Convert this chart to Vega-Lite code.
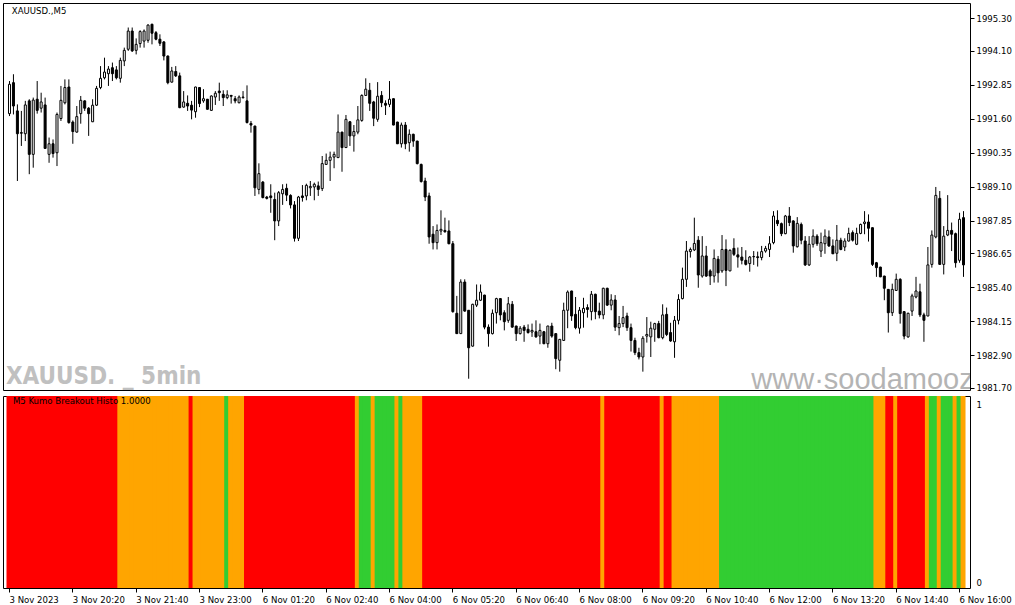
{
"$schema":"https://vega.github.io/schema/vega-lite/v6.json",
"background":"white",
"padding":{"left":2,"top":2,"right":0,"bottom":0},
"spacing":2,
"config":{"view":{"stroke":"black","strokeWidth":1},"axis":{"labelFont":"DejaVu Sans Condensed","labelFontSize":9.5,"labelColor":"black","tickColor":"black","tickWidth":1,"domain":false,"grid":false,"labelOverlap":false}},
"data":{"values":[
{"i":0,"o":1991.79,"h":1992.99,"l":1991.70,"c":1992.87,"s":"r"},
{"i":1,"o":1992.93,"h":1993.24,"l":1991.76,"c":1992.07,"s":"r"},
{"i":2,"o":1991.89,"h":1992.13,"l":1989.31,"c":1991.05,"s":"r"},
{"i":3,"o":1991.09,"h":1991.89,"l":1990.60,"c":1991.07,"s":"r"},
{"i":4,"o":1991.05,"h":1992.26,"l":1990.78,"c":1992.11,"s":"r"},
{"i":5,"o":1992.26,"h":1992.32,"l":1989.56,"c":1990.29,"s":"r"},
{"i":6,"o":1990.29,"h":1992.38,"l":1989.80,"c":1992.29,"s":"r"},
{"i":7,"o":1992.32,"h":1992.99,"l":1991.79,"c":1991.91,"s":"r"},
{"i":8,"o":1991.99,"h":1992.56,"l":1991.83,"c":1992.22,"s":"r"},
{"i":9,"o":1992.11,"h":1992.38,"l":1990.49,"c":1990.51,"s":"r"},
{"i":10,"o":1990.29,"h":1990.91,"l":1989.98,"c":1990.68,"s":"r"},
{"i":11,"o":1990.68,"h":1990.84,"l":1990.17,"c":1990.32,"s":"r"},
{"i":12,"o":1990.35,"h":1991.83,"l":1989.86,"c":1991.76,"s":"r"},
{"i":13,"o":1991.61,"h":1992.81,"l":1991.52,"c":1992.28,"s":"r"},
{"i":14,"o":1992.19,"h":1993.05,"l":1992.13,"c":1992.75,"s":"r"},
{"i":15,"o":1992.77,"h":1993.05,"l":1991.42,"c":1991.46,"s":"r"},
{"i":16,"o":1991.48,"h":1991.54,"l":1990.68,"c":1991.13,"s":"r"},
{"i":17,"o":1991.11,"h":1992.07,"l":1991.09,"c":1991.68,"s":"r"},
{"i":18,"o":1991.79,"h":1992.44,"l":1991.42,"c":1992.28,"s":"r"},
{"i":19,"o":1992.26,"h":1992.28,"l":1991.89,"c":1991.99,"s":"r"},
{"i":20,"o":1991.99,"h":1992.03,"l":1990.97,"c":1991.79,"s":"r"},
{"i":21,"o":1991.49,"h":1992.32,"l":1991.48,"c":1992.10,"s":"r"},
{"i":22,"o":1992.10,"h":1992.81,"l":1992.07,"c":1992.72,"s":"r"},
{"i":23,"o":1992.75,"h":1993.54,"l":1992.69,"c":1993.09,"s":"r"},
{"i":24,"o":1993.11,"h":1993.85,"l":1993.05,"c":1993.32,"s":"r"},
{"i":25,"o":1993.26,"h":1993.54,"l":1992.81,"c":1993.43,"s":"r"},
{"i":26,"o":1993.48,"h":1993.67,"l":1992.99,"c":1993.26,"s":"r"},
{"i":27,"o":1993.40,"h":1993.54,"l":1993.05,"c":1993.11,"s":"r"},
{"i":28,"o":1993.09,"h":1993.85,"l":1992.93,"c":1993.75,"s":"o"},
{"i":29,"o":1993.73,"h":1994.22,"l":1993.54,"c":1994.12,"s":"o"},
{"i":30,"o":1994.16,"h":1994.96,"l":1994.10,"c":1994.83,"s":"o"},
{"i":31,"o":1994.83,"h":1994.96,"l":1994.06,"c":1994.10,"s":"o"},
{"i":32,"o":1994.12,"h":1994.56,"l":1993.97,"c":1994.34,"s":"o"},
{"i":33,"o":1994.37,"h":1994.86,"l":1994.22,"c":1994.81,"s":"o"},
{"i":34,"o":1994.46,"h":1994.89,"l":1994.22,"c":1994.83,"s":"o"},
{"i":35,"o":1994.49,"h":1995.08,"l":1994.40,"c":1995.05,"s":"o"},
{"i":36,"o":1995.08,"h":1995.10,"l":1994.34,"c":1994.75,"s":"o"},
{"i":37,"o":1994.77,"h":1994.83,"l":1994.49,"c":1994.53,"s":"o"},
{"i":38,"o":1994.53,"h":1994.71,"l":1994.28,"c":1994.38,"s":"o"},
{"i":39,"o":1994.43,"h":1994.46,"l":1993.75,"c":1993.91,"s":"o"},
{"i":40,"o":1993.91,"h":1993.93,"l":1992.87,"c":1992.93,"s":"o"},
{"i":41,"o":1992.95,"h":1993.51,"l":1992.93,"c":1993.36,"s":"o"},
{"i":42,"o":1993.34,"h":1993.54,"l":1993.14,"c":1993.18,"s":"o"},
{"i":43,"o":1993.18,"h":1993.30,"l":1991.99,"c":1992.01,"s":"o"},
{"i":44,"o":1992.03,"h":1992.62,"l":1992.01,"c":1992.22,"s":"o"},
{"i":45,"o":1992.17,"h":1992.46,"l":1991.89,"c":1992.07,"s":"o"},
{"i":46,"o":1992.10,"h":1992.26,"l":1991.58,"c":1991.92,"s":"r"},
{"i":47,"o":1991.86,"h":1992.78,"l":1991.64,"c":1992.77,"s":"o"},
{"i":48,"o":1992.75,"h":1992.77,"l":1992.03,"c":1992.16,"s":"o"},
{"i":49,"o":1992.26,"h":1992.69,"l":1992.19,"c":1992.34,"s":"o"},
{"i":50,"o":1992.32,"h":1992.33,"l":1991.94,"c":1991.95,"s":"o"},
{"i":51,"o":1991.91,"h":1992.46,"l":1991.89,"c":1992.44,"s":"o"},
{"i":52,"o":1992.40,"h":1992.62,"l":1992.11,"c":1992.54,"s":"o"},
{"i":53,"o":1992.62,"h":1992.93,"l":1992.26,"c":1992.56,"s":"o"},
{"i":54,"o":1992.50,"h":1992.65,"l":1992.07,"c":1992.38,"s":"o"},
{"i":55,"o":1992.38,"h":1992.65,"l":1992.32,"c":1992.48,"s":"g"},
{"i":56,"o":1992.46,"h":1992.48,"l":1992.16,"c":1992.43,"s":"o"},
{"i":57,"o":1992.34,"h":1992.44,"l":1992.17,"c":1992.26,"s":"o"},
{"i":58,"o":1992.19,"h":1992.46,"l":1992.17,"c":1992.40,"s":"o"},
{"i":59,"o":1992.38,"h":1992.62,"l":1992.34,"c":1992.40,"s":"o"},
{"i":60,"o":1992.26,"h":1992.83,"l":1991.43,"c":1991.46,"s":"r"},
{"i":61,"o":1991.43,"h":1991.52,"l":1991.09,"c":1991.37,"s":"r"},
{"i":62,"o":1991.33,"h":1991.35,"l":1988.76,"c":1989.06,"s":"r"},
{"i":63,"o":1989.00,"h":1989.96,"l":1988.82,"c":1989.58,"s":"r"},
{"i":64,"o":1989.27,"h":1989.31,"l":1988.67,"c":1988.70,"s":"r"},
{"i":65,"o":1988.72,"h":1988.76,"l":1988.63,"c":1988.67,"s":"r"},
{"i":66,"o":1988.76,"h":1989.19,"l":1988.14,"c":1988.70,"s":"r"},
{"i":67,"o":1988.63,"h":1988.88,"l":1987.13,"c":1987.84,"s":"r"},
{"i":68,"o":1987.84,"h":1988.94,"l":1987.65,"c":1988.88,"s":"r"},
{"i":69,"o":1988.84,"h":1989.19,"l":1988.43,"c":1989.00,"s":"r"},
{"i":70,"o":1989.04,"h":1989.21,"l":1988.57,"c":1988.79,"s":"r"},
{"i":71,"o":1988.78,"h":1988.82,"l":1988.30,"c":1988.43,"s":"r"},
{"i":72,"o":1988.43,"h":1988.57,"l":1987.08,"c":1987.20,"s":"r"},
{"i":73,"o":1987.20,"h":1988.76,"l":1987.10,"c":1988.72,"s":"r"},
{"i":74,"o":1988.76,"h":1989.16,"l":1988.55,"c":1988.70,"s":"r"},
{"i":75,"o":1988.76,"h":1989.21,"l":1988.60,"c":1989.15,"s":"r"},
{"i":76,"o":1989.06,"h":1989.31,"l":1988.76,"c":1989.11,"s":"r"},
{"i":77,"o":1989.09,"h":1989.25,"l":1988.60,"c":1989.19,"s":"r"},
{"i":78,"o":1989.13,"h":1989.29,"l":1988.76,"c":1989.00,"s":"r"},
{"i":79,"o":1989.03,"h":1990.23,"l":1988.94,"c":1989.95,"s":"r"},
{"i":80,"o":1989.92,"h":1990.32,"l":1989.90,"c":1990.07,"s":"r"},
{"i":81,"o":1990.07,"h":1990.39,"l":1989.31,"c":1990.19,"s":"r"},
{"i":82,"o":1990.19,"h":1990.39,"l":1989.78,"c":1990.29,"s":"r"},
{"i":83,"o":1990.17,"h":1991.76,"l":1990.16,"c":1991.11,"s":"r"},
{"i":84,"o":1991.11,"h":1991.12,"l":1989.65,"c":1990.54,"s":"r"},
{"i":85,"o":1990.54,"h":1991.74,"l":1990.53,"c":1991.58,"s":"r"},
{"i":86,"o":1991.49,"h":1991.52,"l":1990.60,"c":1990.97,"s":"r"},
{"i":87,"o":1990.97,"h":1991.37,"l":1990.39,"c":1991.13,"s":"r"},
{"i":88,"o":1991.11,"h":1992.07,"l":1991.03,"c":1991.56,"s":"o"},
{"i":89,"o":1991.54,"h":1992.50,"l":1991.49,"c":1992.46,"s":"g"},
{"i":90,"o":1992.46,"h":1993.09,"l":1992.44,"c":1992.69,"s":"g"},
{"i":91,"o":1992.65,"h":1992.92,"l":1991.89,"c":1992.17,"s":"g"},
{"i":92,"o":1992.22,"h":1992.26,"l":1991.33,"c":1991.62,"s":"o"},
{"i":93,"o":1991.58,"h":1992.95,"l":1991.49,"c":1992.43,"s":"g"},
{"i":94,"o":1992.46,"h":1992.62,"l":1992.03,"c":1992.19,"s":"g"},
{"i":95,"o":1992.17,"h":1992.28,"l":1991.74,"c":1992.10,"s":"g"},
{"i":96,"o":1992.13,"h":1992.99,"l":1992.03,"c":1992.32,"s":"g"},
{"i":97,"o":1992.34,"h":1992.35,"l":1991.36,"c":1991.37,"s":"g"},
{"i":98,"o":1991.48,"h":1991.49,"l":1990.67,"c":1990.68,"s":"o"},
{"i":99,"o":1990.68,"h":1991.46,"l":1990.54,"c":1991.37,"s":"g"},
{"i":100,"o":1991.37,"h":1991.48,"l":1990.48,"c":1990.68,"s":"o"},
{"i":101,"o":1990.72,"h":1991.21,"l":1990.39,"c":1991.03,"s":"o"},
{"i":102,"o":1991.03,"h":1991.05,"l":1990.57,"c":1990.78,"s":"o"},
{"i":103,"o":1990.78,"h":1990.79,"l":1989.92,"c":1989.95,"s":"o"},
{"i":104,"o":1989.92,"h":1989.95,"l":1989.25,"c":1989.29,"s":"o"},
{"i":105,"o":1989.31,"h":1989.43,"l":1988.57,"c":1988.72,"s":"r"},
{"i":106,"o":1988.76,"h":1988.88,"l":1987.00,"c":1987.25,"s":"r"},
{"i":107,"o":1987.35,"h":1987.65,"l":1986.79,"c":1987.04,"s":"r"},
{"i":108,"o":1987.04,"h":1987.71,"l":1986.79,"c":1987.49,"s":"r"},
{"i":109,"o":1987.47,"h":1988.23,"l":1987.32,"c":1987.53,"s":"r"},
{"i":110,"o":1987.49,"h":1987.96,"l":1987.41,"c":1987.44,"s":"r"},
{"i":111,"o":1987.47,"h":1987.86,"l":1986.98,"c":1987.00,"s":"r"},
{"i":112,"o":1987.00,"h":1987.10,"l":1984.46,"c":1984.50,"s":"r"},
{"i":113,"o":1984.44,"h":1985.08,"l":1983.68,"c":1983.69,"s":"r"},
{"i":114,"o":1983.69,"h":1985.69,"l":1983.68,"c":1985.59,"s":"r"},
{"i":115,"o":1985.59,"h":1985.69,"l":1984.50,"c":1984.52,"s":"r"},
{"i":116,"o":1984.55,"h":1984.56,"l":1982.03,"c":1983.17,"s":"r"},
{"i":117,"o":1983.23,"h":1984.79,"l":1983.21,"c":1984.77,"s":"r"},
{"i":118,"o":1984.74,"h":1985.50,"l":1984.67,"c":1984.92,"s":"r"},
{"i":119,"o":1984.92,"h":1985.50,"l":1984.89,"c":1985.22,"s":"r"},
{"i":120,"o":1985.11,"h":1985.12,"l":1983.85,"c":1983.93,"s":"r"},
{"i":121,"o":1983.93,"h":1984.03,"l":1983.21,"c":1983.69,"s":"r"},
{"i":122,"o":1983.69,"h":1984.58,"l":1983.66,"c":1984.44,"s":"r"},
{"i":123,"o":1984.46,"h":1985.01,"l":1984.06,"c":1984.98,"s":"r"},
{"i":124,"o":1984.98,"h":1984.99,"l":1984.18,"c":1984.38,"s":"r"},
{"i":125,"o":1984.46,"h":1984.55,"l":1983.81,"c":1984.13,"s":"r"},
{"i":126,"o":1984.18,"h":1985.04,"l":1984.09,"c":1984.79,"s":"r"},
{"i":127,"o":1984.77,"h":1984.89,"l":1983.91,"c":1983.93,"s":"r"},
{"i":128,"o":1983.97,"h":1983.98,"l":1983.42,"c":1983.69,"s":"r"},
{"i":129,"o":1983.69,"h":1983.97,"l":1983.66,"c":1983.89,"s":"r"},
{"i":130,"o":1983.93,"h":1984.01,"l":1983.39,"c":1983.81,"s":"r"},
{"i":131,"o":1983.85,"h":1984.03,"l":1983.69,"c":1983.73,"s":"r"},
{"i":132,"o":1983.75,"h":1984.06,"l":1983.57,"c":1983.81,"s":"r"},
{"i":133,"o":1983.76,"h":1984.18,"l":1983.54,"c":1983.57,"s":"r"},
{"i":134,"o":1983.60,"h":1984.06,"l":1983.30,"c":1983.81,"s":"r"},
{"i":135,"o":1983.76,"h":1983.79,"l":1983.30,"c":1983.32,"s":"r"},
{"i":136,"o":1983.32,"h":1983.98,"l":1983.17,"c":1983.97,"s":"r"},
{"i":137,"o":1983.97,"h":1984.09,"l":1983.54,"c":1983.60,"s":"r"},
{"i":138,"o":1983.69,"h":1983.70,"l":1982.38,"c":1982.77,"s":"r"},
{"i":139,"o":1982.71,"h":1983.49,"l":1982.29,"c":1983.48,"s":"r"},
{"i":140,"o":1983.44,"h":1984.83,"l":1983.43,"c":1984.55,"s":"r"},
{"i":141,"o":1984.55,"h":1985.28,"l":1983.89,"c":1985.22,"s":"r"},
{"i":142,"o":1985.26,"h":1985.27,"l":1984.16,"c":1984.34,"s":"r"},
{"i":143,"o":1984.40,"h":1985.04,"l":1983.85,"c":1983.91,"s":"r"},
{"i":144,"o":1983.89,"h":1984.67,"l":1983.69,"c":1984.55,"s":"r"},
{"i":145,"o":1984.46,"h":1985.01,"l":1983.91,"c":1984.62,"s":"r"},
{"i":146,"o":1984.65,"h":1984.77,"l":1984.28,"c":1984.58,"s":"r"},
{"i":147,"o":1984.50,"h":1985.26,"l":1984.18,"c":1985.14,"s":"r"},
{"i":148,"o":1985.14,"h":1985.16,"l":1984.22,"c":1984.50,"s":"r"},
{"i":149,"o":1984.52,"h":1984.83,"l":1984.25,"c":1984.38,"s":"r"},
{"i":150,"o":1984.38,"h":1985.38,"l":1984.22,"c":1985.36,"s":"o"},
{"i":151,"o":1985.36,"h":1985.38,"l":1984.71,"c":1984.74,"s":"r"},
{"i":152,"o":1984.74,"h":1985.14,"l":1984.55,"c":1984.93,"s":"r"},
{"i":153,"o":1984.93,"h":1985.11,"l":1983.79,"c":1983.93,"s":"r"},
{"i":154,"o":1983.91,"h":1984.34,"l":1983.63,"c":1984.06,"s":"r"},
{"i":155,"o":1984.06,"h":1984.71,"l":1983.93,"c":1984.28,"s":"r"},
{"i":156,"o":1984.34,"h":1984.46,"l":1983.79,"c":1983.91,"s":"r"},
{"i":157,"o":1983.91,"h":1984.06,"l":1983.03,"c":1983.44,"s":"r"},
{"i":158,"o":1983.44,"h":1983.54,"l":1982.90,"c":1982.99,"s":"r"},
{"i":159,"o":1982.99,"h":1983.17,"l":1982.74,"c":1982.83,"s":"r"},
{"i":160,"o":1982.83,"h":1983.60,"l":1982.29,"c":1983.52,"s":"r"},
{"i":161,"o":1983.60,"h":1984.30,"l":1983.36,"c":1983.66,"s":"r"},
{"i":162,"o":1983.57,"h":1984.13,"l":1982.83,"c":1983.89,"s":"r"},
{"i":163,"o":1983.85,"h":1984.09,"l":1983.39,"c":1984.06,"s":"r"},
{"i":164,"o":1984.06,"h":1984.16,"l":1983.52,"c":1983.54,"s":"r"},
{"i":165,"o":1983.54,"h":1984.77,"l":1983.48,"c":1984.38,"s":"o"},
{"i":166,"o":1984.40,"h":1984.65,"l":1983.60,"c":1983.66,"s":"r"},
{"i":167,"o":1983.73,"h":1984.09,"l":1983.39,"c":1983.42,"s":"r"},
{"i":168,"o":1983.39,"h":1984.34,"l":1982.80,"c":1984.18,"s":"o"},
{"i":169,"o":1984.18,"h":1985.14,"l":1984.03,"c":1984.95,"s":"o"},
{"i":170,"o":1984.98,"h":1986.12,"l":1984.95,"c":1985.69,"s":"o"},
{"i":171,"o":1985.69,"h":1987.10,"l":1985.41,"c":1986.73,"s":"o"},
{"i":172,"o":1986.71,"h":1986.86,"l":1986.49,"c":1986.79,"s":"o"},
{"i":173,"o":1986.77,"h":1987.96,"l":1986.73,"c":1987.01,"s":"o"},
{"i":174,"o":1987.13,"h":1987.28,"l":1985.38,"c":1985.85,"s":"o"},
{"i":175,"o":1985.81,"h":1987.28,"l":1985.75,"c":1986.55,"s":"o"},
{"i":176,"o":1986.55,"h":1986.92,"l":1985.78,"c":1985.81,"s":"o"},
{"i":177,"o":1986.00,"h":1986.06,"l":1985.48,"c":1985.81,"s":"o"},
{"i":178,"o":1985.81,"h":1986.79,"l":1985.57,"c":1986.46,"s":"o"},
{"i":179,"o":1986.43,"h":1986.55,"l":1985.57,"c":1985.93,"s":"o"},
{"i":180,"o":1986.00,"h":1987.32,"l":1985.93,"c":1986.79,"s":"g"},
{"i":181,"o":1986.79,"h":1987.16,"l":1985.44,"c":1986.02,"s":"g"},
{"i":182,"o":1986.00,"h":1986.79,"l":1985.99,"c":1986.76,"s":"g"},
{"i":183,"o":1986.83,"h":1987.20,"l":1986.55,"c":1986.61,"s":"g"},
{"i":184,"o":1986.59,"h":1986.86,"l":1986.12,"c":1986.51,"s":"g"},
{"i":185,"o":1986.51,"h":1986.88,"l":1986.24,"c":1986.39,"s":"g"},
{"i":186,"o":1986.39,"h":1986.76,"l":1986.20,"c":1986.24,"s":"g"},
{"i":187,"o":1986.27,"h":1986.55,"l":1985.97,"c":1986.51,"s":"g"},
{"i":188,"o":1986.52,"h":1986.73,"l":1986.22,"c":1986.53,"s":"g"},
{"i":189,"o":1986.52,"h":1986.71,"l":1986.16,"c":1986.49,"s":"g"},
{"i":190,"o":1986.49,"h":1986.92,"l":1986.39,"c":1986.71,"s":"g"},
{"i":191,"o":1986.73,"h":1986.92,"l":1986.67,"c":1986.83,"s":"g"},
{"i":192,"o":1986.79,"h":1987.28,"l":1986.51,"c":1987.00,"s":"g"},
{"i":193,"o":1987.04,"h":1988.20,"l":1986.98,"c":1988.02,"s":"g"},
{"i":194,"o":1987.86,"h":1988.23,"l":1987.65,"c":1987.74,"s":"g"},
{"i":195,"o":1987.74,"h":1987.78,"l":1987.28,"c":1987.37,"s":"g"},
{"i":196,"o":1987.37,"h":1988.06,"l":1987.35,"c":1988.02,"s":"g"},
{"i":197,"o":1988.02,"h":1988.35,"l":1987.65,"c":1987.78,"s":"g"},
{"i":198,"o":1987.84,"h":1987.86,"l":1986.67,"c":1986.92,"s":"g"},
{"i":199,"o":1986.89,"h":1987.98,"l":1986.86,"c":1987.75,"s":"g"},
{"i":200,"o":1987.71,"h":1987.78,"l":1986.98,"c":1987.13,"s":"g"},
{"i":201,"o":1987.10,"h":1987.28,"l":1986.18,"c":1986.22,"s":"g"},
{"i":202,"o":1986.22,"h":1987.28,"l":1986.18,"c":1986.98,"s":"g"},
{"i":203,"o":1986.98,"h":1987.53,"l":1986.86,"c":1987.28,"s":"g"},
{"i":204,"o":1987.28,"h":1987.35,"l":1986.92,"c":1987.00,"s":"g"},
{"i":205,"o":1986.73,"h":1987.41,"l":1986.51,"c":1987.04,"s":"g"},
{"i":206,"o":1987.00,"h":1987.53,"l":1986.63,"c":1987.28,"s":"g"},
{"i":207,"o":1987.25,"h":1987.49,"l":1986.88,"c":1986.92,"s":"g"},
{"i":208,"o":1986.92,"h":1987.16,"l":1986.62,"c":1986.63,"s":"g"},
{"i":209,"o":1986.65,"h":1987.69,"l":1986.36,"c":1987.13,"s":"g"},
{"i":210,"o":1987.13,"h":1987.22,"l":1986.76,"c":1986.79,"s":"g"},
{"i":211,"o":1986.88,"h":1987.20,"l":1986.73,"c":1987.10,"s":"g"},
{"i":212,"o":1987.10,"h":1987.59,"l":1987.08,"c":1987.38,"s":"g"},
{"i":213,"o":1987.41,"h":1987.49,"l":1987.08,"c":1987.13,"s":"g"},
{"i":214,"o":1986.98,"h":1987.59,"l":1986.95,"c":1987.38,"s":"g"},
{"i":215,"o":1987.38,"h":1987.74,"l":1987.35,"c":1987.71,"s":"g"},
{"i":216,"o":1987.74,"h":1988.20,"l":1987.35,"c":1987.80,"s":"g"},
{"i":217,"o":1987.80,"h":1988.08,"l":1987.08,"c":1987.57,"s":"g"},
{"i":218,"o":1987.59,"h":1987.60,"l":1986.18,"c":1986.24,"s":"g"},
{"i":219,"o":1986.30,"h":1986.33,"l":1985.78,"c":1986.12,"s":"o"},
{"i":220,"o":1986.14,"h":1986.15,"l":1985.77,"c":1985.78,"s":"o"},
{"i":221,"o":1985.81,"h":1985.82,"l":1984.92,"c":1985.36,"s":"o"},
{"i":222,"o":1985.32,"h":1985.33,"l":1983.73,"c":1984.46,"s":"r"},
{"i":223,"o":1984.46,"h":1985.53,"l":1984.34,"c":1985.32,"s":"r"},
{"i":224,"o":1985.28,"h":1985.90,"l":1985.26,"c":1985.69,"s":"o"},
{"i":225,"o":1985.69,"h":1985.73,"l":1984.06,"c":1984.43,"s":"r"},
{"i":226,"o":1984.50,"h":1984.52,"l":1983.48,"c":1983.60,"s":"r"},
{"i":227,"o":1983.57,"h":1984.46,"l":1983.54,"c":1984.44,"s":"r"},
{"i":228,"o":1984.52,"h":1985.16,"l":1984.34,"c":1985.08,"s":"r"},
{"i":229,"o":1985.04,"h":1985.78,"l":1984.99,"c":1985.26,"s":"r"},
{"i":230,"o":1985.23,"h":1985.53,"l":1984.30,"c":1984.38,"s":"r"},
{"i":231,"o":1984.38,"h":1984.46,"l":1983.39,"c":1984.18,"s":"r"},
{"i":232,"o":1984.34,"h":1986.88,"l":1984.33,"c":1986.22,"s":"o"},
{"i":233,"o":1986.24,"h":1987.49,"l":1986.12,"c":1987.32,"s":"g"},
{"i":234,"o":1987.25,"h":1989.09,"l":1987.20,"c":1988.78,"s":"g"},
{"i":235,"o":1988.67,"h":1988.94,"l":1986.22,"c":1986.24,"s":"o"},
{"i":236,"o":1986.24,"h":1987.65,"l":1985.87,"c":1987.28,"s":"g"},
{"i":237,"o":1987.32,"h":1988.79,"l":1987.28,"c":1987.49,"s":"g"},
{"i":238,"o":1987.49,"h":1987.78,"l":1986.73,"c":1987.35,"s":"g"},
{"i":239,"o":1987.37,"h":1987.41,"l":1986.12,"c":1986.30,"s":"o"},
{"i":240,"o":1986.39,"h":1988.14,"l":1986.30,"c":1987.90,"s":"g"},
{"i":241,"o":1987.96,"h":1988.20,"l":1985.78,"c":1986.22,"s":"o"}
]},
"resolve":{"scale":{"x":"independent","y":"independent"}},
"vconcat":[
{"width":967,"height":387,
 "resolve":{"axis":{"x":"independent","y":"independent"}},
 "layer":[
  {"mark":{"type":"rule","color":"black","strokeWidth":1},
   "encoding":{
    "x":{"field":"i","type":"quantitative","scale":{"domain":[-0.375,241.375],"nice":false,"zero":false},"axis":null},
    "y":{"field":"l","type":"quantitative","scale":{"domain":[1981.615,1995.863],"nice":false,"zero":false},
     "axis":{"orient":"right","values":[1981.70,1982.90,1984.15,1985.40,1986.65,1987.85,1989.10,1990.35,1991.60,1992.85,1994.10,1995.30],"format":".2f","tickSize":4,"labelPadding":2,"labelOverlap":false,"labelBound":false,"title":null}},
    "y2":{"field":"h"}}},
  {"mark":{"type":"bar","width":2,"stroke":"black","strokeWidth":1},
   "encoding":{
    "x":{"field":"i","type":"quantitative","axis":null},
    "y":{"field":"o","type":"quantitative","axis":null},"y2":{"field":"c"},
    "fill":{"condition":{"test":"datum.c < datum.o","value":"black"},"value":"white"}}},
  {"data":{"values":[{"t":"XAUUSD. _ 5min","px":-0.9,"py":1981.84}]},
   "mark":{"type":"text","align":"left","baseline":"alphabetic","font":"DejaVu Sans Condensed","fontWeight":"bold","fontSize":24,"fill":"#c0c0c0"},
   "encoding":{"x":{"field":"px","type":"quantitative","axis":null},"y":{"field":"py","type":"quantitative","axis":null},"text":{"field":"t"}}},
  {"data":{"values":[{"t":"www·soodamooz.com","px":187.4,"py":1981.66}]},
   "mark":{"type":"text","align":"left","baseline":"alphabetic","font":"Liberation Sans","fontSize":29,"fill":"#b4b4b4","clip":true},
   "encoding":{"x":{"field":"px","type":"quantitative","axis":null},"y":{"field":"py","type":"quantitative","axis":null},"text":{"field":"t"}}},
  {"data":{"values":[{"t":"XAUUSD.,M5","px":0.6,"py":1995.57}]},
   "mark":{"type":"text","align":"left","baseline":"middle","font":"DejaVu Sans Condensed","fontSize":9.5,"fill":"black"},
   "encoding":{"x":{"field":"px","type":"quantitative","axis":null},"y":{"field":"py","type":"quantitative","axis":null},"text":{"field":"t"}}}
 ]},
{"width":967,"height":192,
 "resolve":{"axis":{"x":"independent","y":"independent"}},
 "layer":[
  {"mark":{"type":"bar","width":5},
   "encoding":{
    "x":{"field":"i","type":"quantitative","scale":{"domain":[-0.25,241.5],"nice":false,"zero":false},
     "axis":{"values":[0,16,32,48,64,80,96,112,128,144,160,176,192,208,224,240],"labelExpr":"['3 Nov 2023','3 Nov 20:20','3 Nov 21:40','3 Nov 23:00','6 Nov 01:20','6 Nov 02:40','6 Nov 04:00','6 Nov 05:20','6 Nov 06:40','6 Nov 08:00','6 Nov 09:20','6 Nov 10:40','6 Nov 12:00','6 Nov 13:20','6 Nov 14:40','6 Nov 16:00'][round(datum.value/16)]","labelAlign":"left","tickSize":4,"labelPadding":2,"labelFlush":false,"title":null}},
    "y":{"datum":1,"type":"quantitative","scale":{"domain":[0,1],"nice":false},
     "axis":{"orient":"right","values":[0,1],"format":"d","ticks":false,"labelPadding":6,"labelBaseline":"middle","labelOffset":{"condition":{"test":"datum.value == 1","value":8},"value":-6},"title":null}},
    "fill":{"field":"s","type":"nominal","scale":{"domain":["r","o","g"],"range":["#ff0000","#ffa500","#32cd32"]},"legend":null}}},
  {"data":{"values":[{"t":"M5 Kumo Breakout Histo 1.0000","px":1.0,"py":0.975}]},
   "mark":{"type":"text","align":"left","baseline":"middle","font":"DejaVu Sans Condensed","fontSize":9.5,"fill":"black"},
   "encoding":{"x":{"field":"px","type":"quantitative","axis":null},"y":{"field":"py","type":"quantitative","axis":null},"text":{"field":"t"}}}
 ]}
]
}
